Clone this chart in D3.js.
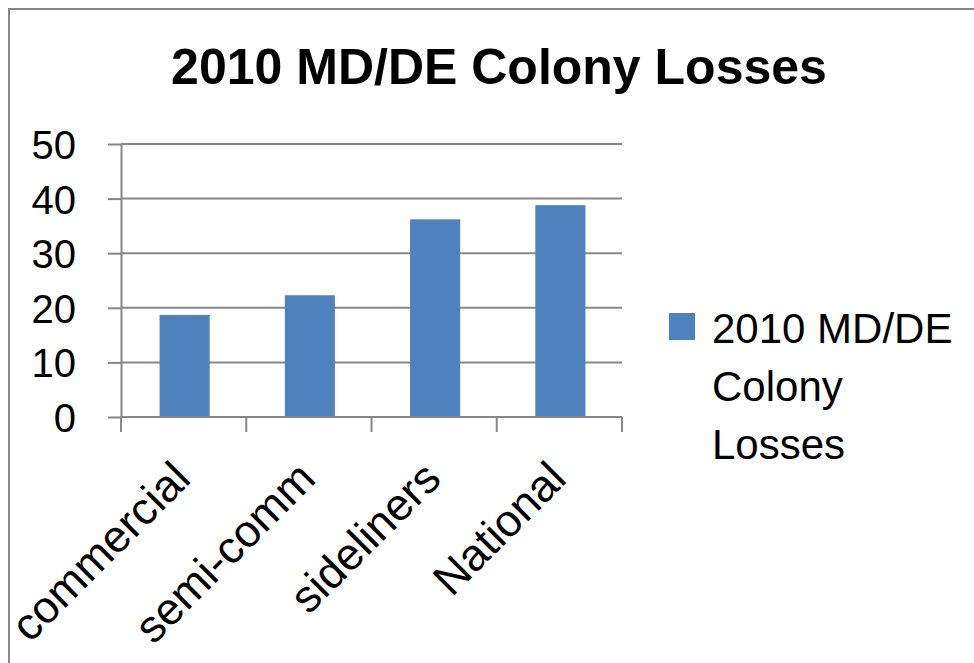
<!DOCTYPE html>
<html>
<head>
<meta charset="utf-8">
<script src="https://cdn.jsdelivr.net/npm/d3@7"></script>
<style>
  body { margin: 0; background: #fff; }
  text { font-family: "Liberation Sans", Arial, sans-serif; fill: #000; }
</style>
</head>
<body>
<div id="chart"></div>
<script>
const categories = ["commercial", "semi-comm", "sideliners", "National"];
const losses = [18.7, 22.3, 36.2, 38.8];
const yTicks = [0, 10, 20, 30, 40, 50];
const seriesName = "2010 MD/DE Colony Losses";
const legendLines = ["2010 MD/DE", "Colony", "Losses"];

const W = 974, H = 663;
const margin = { top: 144, right: 352, bottom: 246, left: 121 };
const width = W - margin.left - margin.right;
const height = H - margin.top - margin.bottom;
const gridColor = "#878787";

const svg = d3.select("#chart")
  .append("svg")
  .attr("width", W)
  .attr("height", H);

// chart area border (runs off the right and bottom edges)
svg.append("rect")
  .attr("x", 9).attr("y", 9)
  .attr("width", W + 20).attr("height", H + 20)
  .attr("fill", "none")
  .attr("stroke", gridColor)
  .attr("stroke-width", 2);

svg.append("text")
  .attr("x", 499).attr("y", 84)
  .attr("text-anchor", "middle")
  .style("font-weight", "bold")
  .style("font-size", "50px")
  .text(seriesName);

const g = svg.append("g")
  .attr("transform", `translate(${margin.left},${margin.top})`);

const xScale = d3.scaleBand()
  .domain(categories)
  .range([0, width])
  .paddingInner(0)
  .paddingOuter(0);

const yScale = d3.scaleLinear()
  .domain([0, 50])
  .range([height, 0]);

// gridlines
g.selectAll(".grid")
  .data(yTicks)
  .enter().append("line")
  .attr("class", "grid")
  .attr("x1", 0).attr("x2", width)
  .attr("y1", d => yScale(d)).attr("y2", d => yScale(d))
  .attr("stroke", gridColor)
  .attr("stroke-width", 2);

// y axis
const yAxis = d3.axisLeft(yScale)
  .tickValues(yTicks)
  .tickSize(13)
  .tickSizeOuter(0)
  .tickPadding(32);

const yG = g.append("g").call(yAxis);
yG.select(".domain").attr("stroke", gridColor).attr("stroke-width", 2);
yG.selectAll(".tick line").attr("stroke", gridColor).attr("stroke-width", 2);
yG.selectAll(".tick text").style("font-size", "40px").attr("dy", "0.36em");

// bars
const barW = xScale.bandwidth() * 0.4;
g.selectAll(".bar")
  .data(categories)
  .enter().append("rect")
  .attr("class", "bar")
  .attr("x", d => xScale(d) + (xScale.bandwidth() - barW) / 2 + 1)
  .attr("y", (d, i) => yScale(losses[i]))
  .attr("width", barW)
  .attr("height", (d, i) => height - yScale(losses[i]))
  .attr("fill", "#4f81bd");

// x axis line and boundary ticks
g.append("line")
  .attr("x1", 0).attr("x2", width)
  .attr("y1", height).attr("y2", height)
  .attr("stroke", gridColor).attr("stroke-width", 2);

const bounds = categories.map(d => xScale(d)).concat([width]);
g.selectAll(".xtick")
  .data(bounds)
  .enter().append("line")
  .attr("class", "xtick")
  .attr("x1", d => d).attr("x2", d => d)
  .attr("y1", height).attr("y2", height + 15)
  .attr("stroke", gridColor).attr("stroke-width", 2);

// category labels, rotated 45 degrees
const xAxis = d3.axisBottom(xScale).tickSize(0).tickPadding(0);
const xG = g.append("g")
  .attr("transform", `translate(0,${height})`)
  .call(xAxis);
xG.select(".domain").remove();
xG.selectAll(".tick text")
  .style("font-size", "45px")
  .attr("text-anchor", "end")
  .attr("x", 0).attr("y", 0).attr("dy", 0)
  .attr("transform", "translate(9,64) rotate(-45)");

// legend
const legend = svg.append("g").attr("transform", "translate(669,313)");
legend.append("rect")
  .attr("width", 26).attr("height", 27)
  .attr("fill", "#4f81bd");
legend.selectAll("text")
  .data(legendLines)
  .enter().append("text")
  .attr("x", 43)
  .attr("y", (d, i) => 30 + i * 58)
  .style("font-size", "42px")
  .text(d => d);
</script>
</body>
</html>
